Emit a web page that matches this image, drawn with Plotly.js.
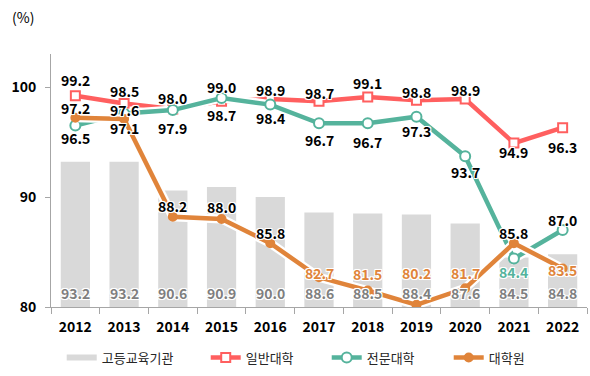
<!DOCTYPE html>
<html>
<head>
<meta charset="utf-8">
<script src="https://cdn.plot.ly/plotly-3.0.1.min.js"></script>
<style>html,body{margin:0;padding:0;background:#fff;}#chart{width:590px;height:376px;}</style>
</head>
<body>
<div id="chart"></div>
<script>
// ---- data ----
const years = ['2012','2013','2014','2015','2016','2017','2018','2019','2020','2021','2022'];
const higherEdu = [93.2, 93.2, 90.6, 90.9, 90.0, 88.6, 88.5, 88.4, 87.6, 84.5, 84.8];
const univ      = [99.2, 98.5, 98.0, 98.7, 98.9, 98.7, 99.1, 98.8, 98.9, 94.9, 96.3];
const college   = [96.5, 97.6, 97.9, 99.0, 98.4, 96.7, 96.7, 97.3, 93.7, 84.4, 87.0];
const graduate  = [97.2, 97.1, 88.2, 88.0, 85.8, 82.7, 81.5, 80.2, 81.7, 85.8, 83.5];
const seriesNames = ['고등교육기관', '일반대학', '전문대학', '대학원'];

// ---- style ----
const FONT = '"Noto Sans CJK KR", "Noto Sans", sans-serif';
const cGrey = '#D9D9D9', cRed = '#FF5F5F', cTeal = '#55B39C', cOrange = '#E0843A';
const univShift    = [16, 13, 11, -14, 9, 8, 14, 8, 9, -9, -19];
const collegeShift = [-12, 3, -18, 11, -13, -17, -19, -14, -16, -13, 10];
const gradShift    = [10, -9, 11, 12, 10, 4, 17, 32, 15, 10, -1];
const collegeCol   = ['#000','#000','#000','#000','#000','#000','#000','#000','#000',cTeal,'#000'];
const gradCol      = ['#000','#000','#000','#000','#000',cOrange,cOrange,cOrange,cOrange,'#000',cOrange];
const legendWidths = [99, 76, 77, 45];
const SHADOW = '-1px -1px 0 #fff, 1px -1px 0 #fff, -1px 1px 0 #fff, 1px 1px 0 #fff, 0 0 2px #fff';

const traces = [];
traces.push({type:'bar', x:years, y:higherEdu, name:seriesNames[0], marker:{color:cGrey}, width:0.6, showlegend:false, hoverinfo:'x+y'});
traces.push({type:'scatter', mode:'lines', x:[years[0]], y:[null], name:seriesNames[0], line:{color:cGrey, width:6},
  showlegend:true, hoverinfo:'skip', legendwidth:legendWidths[0]});

function addLine(vals, name, color, symbol, fill, size, lw) {
  traces.push({type:'scatter', mode:'lines', x:years, y:vals, line:{color:'#fff', width:9}, showlegend:false, hoverinfo:'skip'});
  traces.push({type:'scatter', mode:'lines+markers', x:years, y:vals, name:name, legendwidth:lw,
    line:{color:color, width:4.5},
    marker:{symbol:symbol, size:size, color:fill, line:{color:color, width:2}}});
}
addLine(univ, seriesNames[1], cRed, 'square', '#fff', 9, legendWidths[1]);
addLine(college, seriesNames[2], cTeal, 'circle', '#fff', 10, legendWidths[2]);
addLine(graduate, seriesNames[3], cOrange, 'circle', cOrange, 8, legendWidths[3]);

// annotations on a category axis take the category index
const annotations = [];
function lab(i, y, text, shift, color) {
  annotations.push({x:i, y:y, xref:'x', yref:'y', text:text, showarrow:false, yshift:shift,
    font:{family:FONT, size:14, color:color, weight:'bold', shadow:SHADOW}});
}
years.forEach((yr, i) => {
  lab(i, 80, higherEdu[i].toFixed(1), 14, '#7F7F7F');
  lab(i, univ[i], univ[i].toFixed(1), univShift[i], '#000');
  lab(i, college[i], college[i].toFixed(1), collegeShift[i], collegeCol[i]);
  lab(i, graduate[i], graduate[i].toFixed(1), gradShift[i], gradCol[i]);
});
annotations.push({xref:'paper', yref:'paper', x:-0.076, y:1.146, xanchor:'left', yanchor:'middle',
  text:'(%)', showarrow:false, font:{family:FONT, size:14, color:'#000'}});

const layout = {
  width:590, height:376,
  margin:{l:51, r:3, t:54, b:69},
  paper_bgcolor:'#fff', plot_bgcolor:'#fff',
  font:{family:FONT, color:'#000'},
  showlegend:true,
  legend:{orientation:'h', x:0.02, xanchor:'left', y:-0.2, yanchor:'middle',
    font:{family:FONT, size:13, color:'#262626'}, itemwidth:30, traceorder:'normal'},
  xaxis:{type:'category', categoryorder:'array', categoryarray:years, range:[-0.5, years.length-0.5],
    showline:true, linecolor:'#A6A6A6', linewidth:1,
    ticks:'outside', tickson:'boundaries', ticklen:6, tickcolor:'#A6A6A6', tickangle:0, ticklabelstandoff:7,
    tickfont:{family:FONT, size:14, color:'#000', weight:'bold'}, showgrid:false, zeroline:false},
  yaxis:{range:[80,103], tickvals:[80,90,100], showline:true, linecolor:'#A6A6A6', linewidth:1,
    ticks:'outside', ticklen:5, tickcolor:'#A6A6A6', showgrid:false, zeroline:false, ticklabelstandoff:6,
    tickfont:{family:FONT, size:14, color:'#000', weight:'bold'}},
  annotations:annotations,
  bargap:0.4
};
Plotly.newPlot('chart', traces, layout, {displayModeBar:false, staticPlot:true});
</script>
</body>
</html>
